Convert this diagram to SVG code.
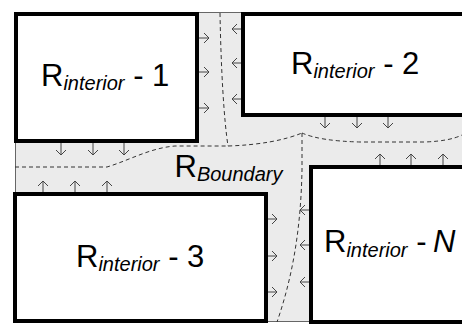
<svg xmlns="http://www.w3.org/2000/svg" width="462" height="324" viewBox="0 0 462 324">
  <style>
    .region { fill: #ffffff; stroke: #000000; stroke-width: 4; }
    .boundary { fill: #ebebeb; stroke: #666666; stroke-width: 1; }
    .lbl { font-family: "Liberation Sans", Arial, sans-serif; font-size: 31px; fill: #000000; }
    .sub { font-size: 20px; font-style: italic; }
    .flux { fill: none; stroke: #444444; stroke-width: 1; marker-end: url(#chev); }
    .cut { fill: none; stroke: #333333; stroke-width: 1; stroke-dasharray: 4 3; }
  </style>
  <defs>
    <marker id="chev" markerUnits="userSpaceOnUse" markerWidth="7" markerHeight="12" refX="5.5" refY="5.5" orient="auto">
      <path d="M0.5,0.5 L5.5,5.5 L0.5,10.5" fill="none" stroke="#444444" stroke-width="1"/>
    </marker>
  </defs>

  <!-- shared boundary strip between the interior regions -->
  <g id="boundary">
    <rect class="boundary" x="15.5" y="12.5" width="460" height="309"/>
  </g>

  <g id="interior-1">
    <rect class="region" x="16" y="14" width="181" height="127"/>
    <text class="lbl" x="41" y="86">R<tspan class="sub" dy="4">interior</tspan><tspan dy="-4"> - 1</tspan></text>
  </g>

  <g id="interior-2">
    <rect class="region" x="243" y="14" width="240" height="101"/>
    <text class="lbl" x="291" y="74">R<tspan class="sub" dy="4">interior</tspan><tspan dy="-4"> - 2</tspan></text>
  </g>

  <g id="interior-3">
    <rect class="region" x="15" y="194" width="251" height="127"/>
    <text class="lbl" x="76" y="267">R<tspan class="sub" dy="4">interior</tspan><tspan dy="-4"> - 3</tspan></text>
  </g>

  <g id="interior-n">
    <rect class="region" x="311" y="167" width="200" height="155"/>
    <text class="lbl" x="324" y="252">R<tspan class="sub" dy="5">interior</tspan><tspan dy="-5"> - </tspan><tspan font-style="italic" dx="-2">N</tspan></text>
  </g>

  <g id="boundary-label">
    <text class="lbl" x="174.5" y="177" font-size="31">R<tspan class="sub" dy="4">Boundary</tspan></text>
  </g>

  <g id="connectors">
    <!-- dashed partition lines through the boundary strip -->
    <path class="cut" d="M220,13 C221,70 224,120 228,146"/>
    <path class="cut" stroke="#555555" d="M15,167 L107,167 C130,160 150,148 175,146 L228,146"/>
    <path class="cut" d="M228,146 C260,145 285,140 302,133"/>
    <path class="cut" d="M302,133 Q320,141 360,142 L425,142 Q450,141 462,135"/>
    <path class="cut" d="M302,133 L302,170 C301,220 295,270 277,322"/>

    <!-- exchange arrows, region 1 -->
    <path class="flux" d="M199,38 h10"/>
    <path class="flux" d="M199,72 h10"/>
    <path class="flux" d="M199,108 h10"/>
    <path class="flux" d="M61,143 v12"/>
    <path class="flux" d="M93,143 v12"/>
    <path class="flux" d="M124,143 v12"/>

    <!-- region 2 -->
    <path class="flux" d="M241,29 h-9"/>
    <path class="flux" d="M241,63 h-9"/>
    <path class="flux" d="M241,99 h-9"/>
    <path class="flux" d="M325,117 v11"/>
    <path class="flux" d="M357,117 v11"/>
    <path class="flux" d="M388,117 v11"/>

    <!-- region 3 -->
    <path class="flux" d="M43,192 v-11"/>
    <path class="flux" d="M75,192 v-11"/>
    <path class="flux" d="M107,192 v-11"/>
    <path class="flux" d="M268,219 h9"/>
    <path class="flux" d="M268,256 h9"/>
    <path class="flux" d="M268,292 h9"/>

    <!-- region N -->
    <path class="flux" d="M380,165 v-11"/>
    <path class="flux" d="M411,165 v-11"/>
    <path class="flux" d="M443,165 v-11"/>
    <path class="flux" d="M309,210 h-9"/>
    <path class="flux" d="M309,245 h-9"/>
    <path class="flux" d="M309,282 h-9"/>
  </g>
</svg>
